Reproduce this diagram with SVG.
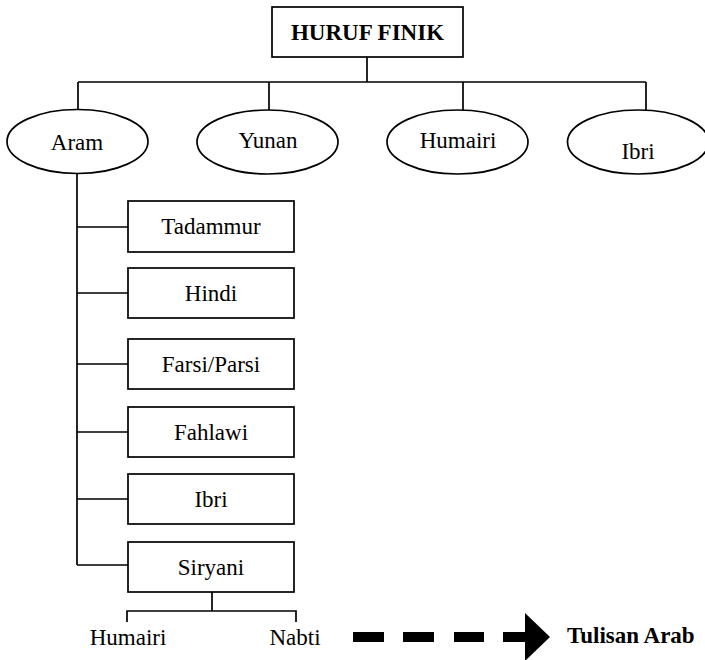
<svg xmlns="http://www.w3.org/2000/svg" width="705" height="660" viewBox="0 0 705 660" font-family="Liberation Serif">
<rect width="705" height="660" fill="#fff"/>
<g id="connectors" fill="none" stroke="#000" stroke-width="1.7">
<path d="M367,57 V82 M78,82 H646 M78,82 V110 M269,82 V110 M463,82 V110 M646,82 V110"/>
<path d="M77,174 V565 M77,227 H128 M77,293 H128 M77,364 H128 M77,432 H128 M77,499 H128 M77,565 H128"/>
<path d="M212,592 V611 M127,622 V611 H296 V622"/>
<g id="dashed-arrow" fill="#000" stroke="none">
<rect x="353" y="632" width="31" height="10"/>
<rect x="403" y="632" width="31" height="10"/>
<rect x="454" y="632" width="30" height="10"/>
<rect x="503" y="632" width="23" height="10"/>
<polygon points="525,613 550,637 525,661"/>
</g>
</g>
<g id="huruf-finik"><rect fill="#fff" stroke="#000" stroke-width="1.7" x="272" y="7" width="191" height="50"/><text style="font-family:'Liberation Serif',serif;font-size:23px;font-weight:bold" text-anchor="middle" x="367.5" y="40">HURUF FINIK</text></g>
<g id="aram"><ellipse fill="#fff" stroke="#000" stroke-width="1.7" cx="77.5" cy="141.5" rx="70.5" ry="32"/><text style="font-family:'Liberation Serif',serif;font-size:23px" text-anchor="middle" x="77" y="150">Aram</text></g>
<g id="yunan"><ellipse fill="#fff" stroke="#000" stroke-width="1.7" cx="267.5" cy="142" rx="70.5" ry="32"/><text style="font-family:'Liberation Serif',serif;font-size:23px" text-anchor="middle" x="268" y="148">Yunan</text></g>
<g id="humairi-top"><ellipse fill="#fff" stroke="#000" stroke-width="1.7" cx="457.5" cy="142" rx="70.5" ry="32"/><text style="font-family:'Liberation Serif',serif;font-size:23px" text-anchor="middle" x="458" y="148">Humairi</text></g>
<g id="ibri-top"><ellipse fill="#fff" stroke="#000" stroke-width="1.7" cx="638" cy="142" rx="70.5" ry="32"/><text style="font-family:'Liberation Serif',serif;font-size:23px" text-anchor="middle" x="638" y="159">Ibri</text></g>
<g id="tadammur"><rect fill="#fff" stroke="#000" stroke-width="1.7" x="128" y="201" width="166" height="51"/><text style="font-family:'Liberation Serif',serif;font-size:23px" text-anchor="middle" x="211" y="234">Tadammur</text></g>
<g id="hindi"><rect fill="#fff" stroke="#000" stroke-width="1.7" x="128" y="268" width="166" height="50"/><text style="font-family:'Liberation Serif',serif;font-size:23px" text-anchor="middle" x="211" y="301">Hindi</text></g>
<g id="farsi"><rect fill="#fff" stroke="#000" stroke-width="1.7" x="128" y="339" width="166" height="50"/><text style="font-family:'Liberation Serif',serif;font-size:23px" text-anchor="middle" x="211" y="372">Farsi/Parsi</text></g>
<g id="fahlawi"><rect fill="#fff" stroke="#000" stroke-width="1.7" x="128" y="407" width="166" height="50"/><text style="font-family:'Liberation Serif',serif;font-size:23px" text-anchor="middle" x="211" y="440">Fahlawi</text></g>
<g id="ibri"><rect fill="#fff" stroke="#000" stroke-width="1.7" x="128" y="474" width="166" height="50"/><text style="font-family:'Liberation Serif',serif;font-size:23px" text-anchor="middle" x="211" y="507">Ibri</text></g>
<g id="siryani"><rect fill="#fff" stroke="#000" stroke-width="1.7" x="128" y="542" width="166" height="50"/><text style="font-family:'Liberation Serif',serif;font-size:23px" text-anchor="middle" x="211" y="575">Siryani</text></g>
<g id="humairi"><text style="font-family:'Liberation Serif',serif;font-size:23px" text-anchor="middle" x="128" y="645">Humairi</text></g>
<g id="nabti"><text style="font-family:'Liberation Serif',serif;font-size:23px" text-anchor="middle" x="295" y="645">Nabti</text></g>
<g id="tulisan-arab"><text style="font-family:'Liberation Serif',serif;font-size:23px;font-weight:bold" x="567" y="643">Tulisan Arab</text></g>
</svg>
